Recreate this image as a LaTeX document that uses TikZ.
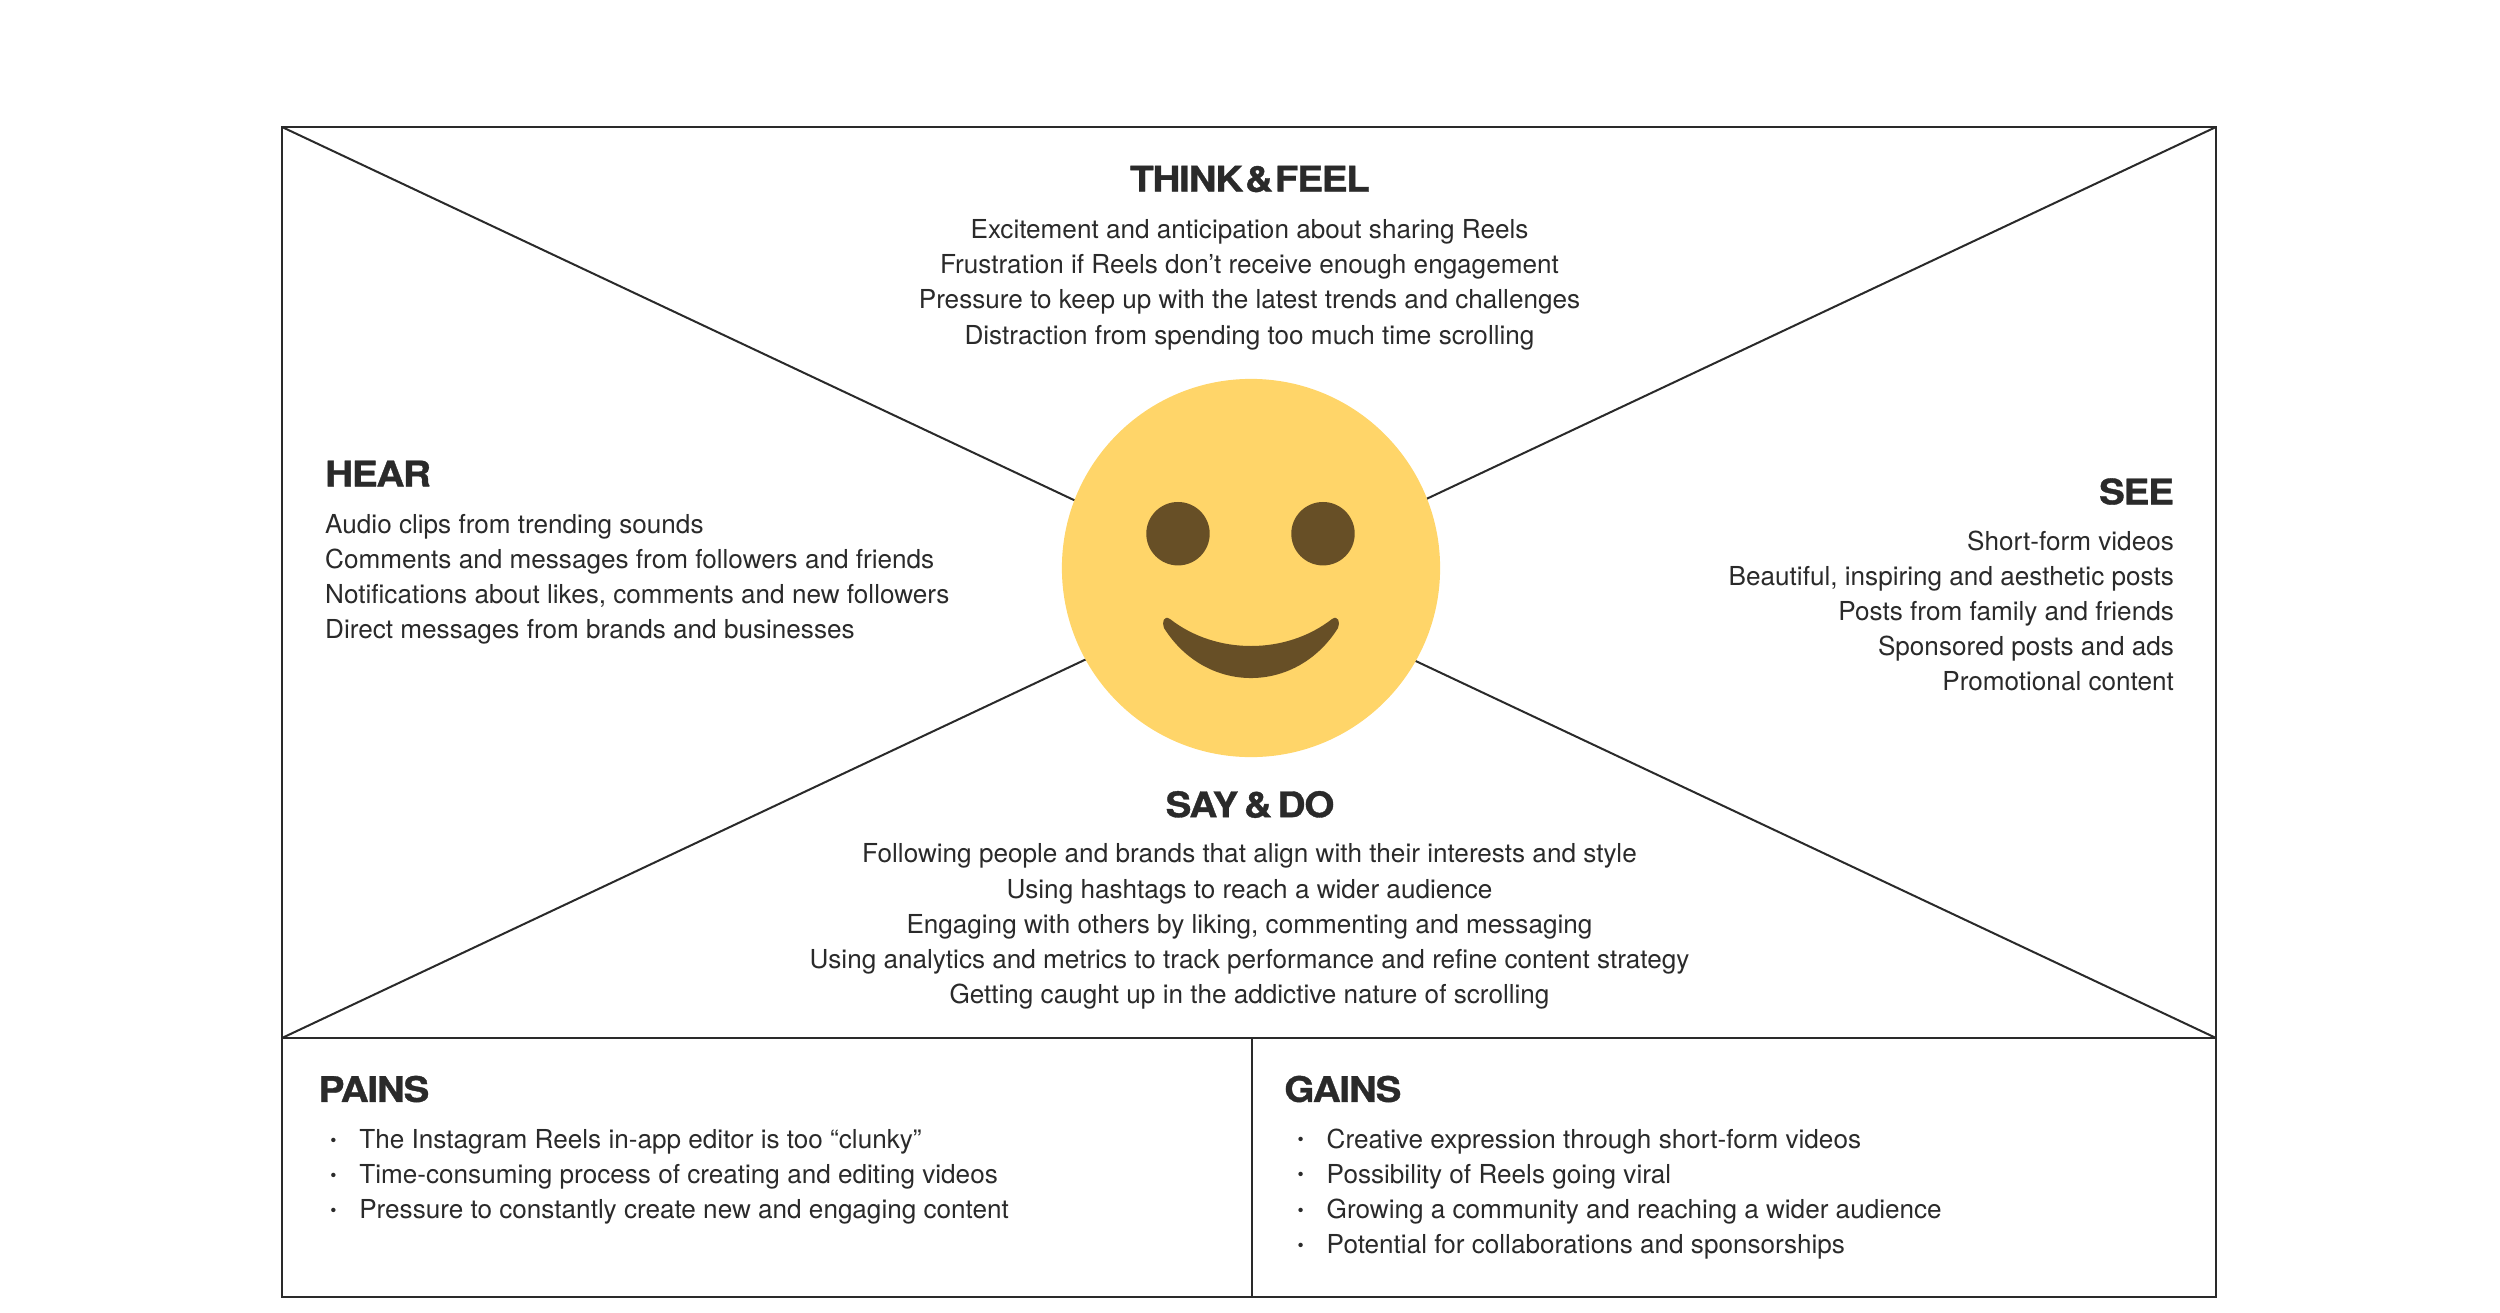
\documentclass[tikz,border=0pt]{standalone}
\usepackage{fontspec}
\setmainfont{TeX Gyre Heros}
\newfontfamily\headfont[LetterSpace=-3.6,WordSpace=0.6,FakeStretch=1.1,FakeBold=1.0]{TeX Gyre Heros Bold}
\definecolor{ink}{HTML}{2A2A2A}
\definecolor{smileyellow}{HTML}{FFD569}
\definecolor{smilebrown}{HTML}{674F26}
\tikzstyle{frameline} = [draw=ink, line width=2*0.2845pt]
\tikzstyle{heading} = [inner sep=0pt, text=ink, font=\headfont\fontsize{10}{12}\selectfont]
\tikzstyle{bodytext} = [inner sep=0pt, text=ink, font=\fontsize{7.43}{10}\selectfont]
\tikzstyle{face} = [circle, inner sep=0pt, fill=smileyellow, minimum size=3.78cm]
\tikzstyle{eye} = [circle, inner sep=0pt, fill=smilebrown, minimum size=0.634cm]
\newcommand{\listdot}{\makebox[29\unitlength][l]{\raisebox{0.7pt}{\fontsize{5}{5}\selectfont\textbullet}}}
\setlength{\unitlength}{0.2845pt}

\begin{document}
\begin{tikzpicture}[x=0.01cm, y=-0.01cm]
    \useasboundingbox (0,0) rectangle (2500,1312);
    \coordinate (topleft) at (282,127);
    \coordinate (topright) at (2216,127);
    \coordinate (midleft) at (282,1038);
    \coordinate (midright) at (2216,1038);
    \coordinate (botleft) at (282,1297);
    \coordinate (botright) at (2216,1297);
    \coordinate (midtop) at (1252,1038);
    \coordinate (midbot) at (1252,1297);
    \draw [frameline] (topleft) -- (topright) -- (botright) -- (botleft) -- cycle;
    \draw [frameline] (midleft) -- (midright);
    \draw [frameline] (midtop) -- (midbot);
    \draw [frameline] (topleft) -- (midright);
    \draw [frameline] (topright) -- (midleft);

    \node [face] at (1251,568) (face) {};
    \node [eye] at (1178,533.7) (lefteye) {};
    \node [eye] at (1323,533.7) (righteye) {};
    \begin{scope}[shift={(face.center)}]
    \fill [smilebrown] (-81,51) .. controls (-35,87) and (35,87) .. (81,51)
        .. controls (87,47) and (89.5,54) .. (87,60)
        .. controls (45,126.7) and (-45,126.7) .. (-87,60)
        .. controls (-89.5,54) and (-87,47) .. (-81,51) -- cycle;
    \end{scope}

    \node [heading] at (1250,179) (thinkhead) {THINK\hspace{-1.1pt} \&\hspace{-1.1pt} FEEL};
    \node [bodytext, align=center] at (1249.5,284.6) (thinkbody) {Excitement and anticipation about sharing Reels\\Frustration if Reels don’t receive enough engagement\\Pressure to keep up with the latest trends and challenges\\Distraction from spending too much time scrolling};
    \node [heading, anchor=west] at (324.5,473.5) (hearhead) {HEAR};
    \node [bodytext, align=left, anchor=west] at (324.5,579.5) (hearbody) {Audio clips from trending sounds\\Comments and messages from followers and friends\\Notifications about likes, comments and new followers\\Direct messages from brands and businesses};
    \node [heading, anchor=east] at (2174.6,491.5) (seehead) {SEE};
    \node [bodytext, align=right, anchor=east] at (2174.6,611) (seebody) {Short-form videos\\Beautiful, inspiring and aesthetic posts\\Posts from family and friends\\Sponsored posts and ads\\Promotional content};
    \node [heading] at (1250,804.5) (sayhead) {SAY \& DO};
    \node [bodytext, align=center] at (1249.5,926.5) (saybody) {Following people and brands that align with their interests and style\\Using hashtags to reach a wider audience\\Engaging with others by liking, commenting and messaging\\Using analytics and metrics to track performance and refine content strategy\\Getting caught up in the addictive nature of scrolling};
    \node [heading, anchor=west] at (318,1089) (painshead) {PAINS};
    \node [bodytext, align=left, anchor=west] at (329.6,1177) (painsbody) {\listdot The Instagram Reels in-app editor is too “clunky”\\\listdot Time-consuming process of creating and editing videos\\\listdot Pressure to constantly create new and engaging content};
    \node [heading, anchor=west] at (1283.6,1089) (gainshead) {GAINS};
    \node [bodytext, align=left, anchor=west] at (1297,1194) (gainsbody) {\listdot Creative expression through short-form videos\\\listdot Possibility of Reels going viral\\\listdot Growing a community and reaching a wider audience\\\listdot Potential for collaborations and sponsorships};
\end{tikzpicture}
\end{document}
